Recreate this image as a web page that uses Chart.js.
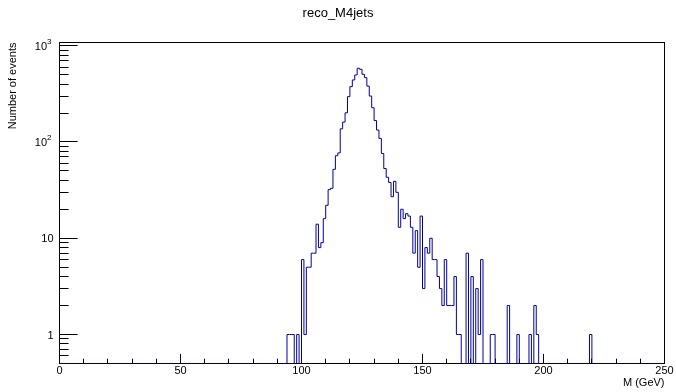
<!DOCTYPE html>
<html>
<head>
<meta charset="utf-8">
<title>reco_M4jets</title>
<script src="https://cdn.jsdelivr.net/npm/chart.js@4/dist/chart.umd.min.js"></script>
<style>
  html, body { margin: 0; padding: 0; background: #ffffff; }
</style>
</head>
<body>
<canvas id="histo" width="676" height="392"></canvas>
<script>
// histogram: 1 GeV bins, counts start at firstBin
var firstBin = 94;
var counts = [
  1, 1, 1, 0, 1, 0,                       // 94-99
  6, 1, 5, 5, 7, 7, 14, 8, 9, 16,         // 100-109
  22, 32, 33, 52, 72, 77, 137, 161, 201, 296,   // 110-119
  376, 441, 497, 583, 569, 505, 466, 381, 300, 227, // 120-129
  167, 133, 109, 76, 53, 43, 38, 27, 39, 30,    // 130-139
  13, 20, 16, 18, 17, 13, 7, 12, 5, 17,   // 140-149
  3, 8, 7, 10, 6, 6, 4, 3, 2, 6,          // 150-159
  2, 2, 2, 4, 1, 1, 0, 0, 7, 0,           // 160-169
  4, 0, 3, 1, 6, 0, 0, 0, 1, 1,           // 170-179
  0, 0, 0, 0, 0, 2, 0, 0, 0, 1,           // 180-189
  0, 0, 0, 0, 1, 0, 2, 1, 0, 0,           // 190-199
  0, 0, 0, 0, 0, 0, 0, 0, 0, 0,           // 200-209
  0, 0, 0, 0, 0, 0, 0, 0, 0, 1            // 210-219
];

var xMin = 0, xMax = 250;
var yMin = 0.5, yMax = 1080;
var xTickValues = [0, 50, 100, 150, 200, 250];
var xTickLabels = ['0', '50', '100', '150', '200', '250'];
var yMajorTicks = [1, 10, 100, 1000];
var yTickLabels = ['1', '10', '10', '10'];
var yTickExponents = ['', '', '2', '3'];

var FONT = '"Liberation Sans", Arial, Helvetica, sans-serif';

// step points at each bin's low edge; empty bins sit on the frame floor
function buildSteps() {
  var pts = [];
  for (var b = xMin; b < xMax; b++) {
    var i = b - firstBin;
    var v = (i >= 0 && i < counts.length) ? counts[i] : 0;
    pts.push({ x: b, y: v > 0 ? v : yMin });
  }
  pts.push({ x: xMax, y: yMin });
  return pts;
}

/**
 * ROOT-like frame: box, inward ticks, labels, titles.
 */
var rootFrame = {
  id: 'rootFrame',
  beforeDatasetsDraw: function (chart) {
    var ctx = chart.ctx;
    var a = chart.chartArea;
    var xs = chart.scales.x;
    var ys = chart.scales.y;
    var w = a.right - a.left;
    var h = a.bottom - a.top;

    ctx.save();
    ctx.strokeStyle = '#000000';
    ctx.lineWidth = 1;
    ctx.strokeRect(a.left, a.top, w, h);

    ctx.beginPath();
    // x ticks every 10, major every 50
    for (var v = xMin; v <= xMax; v += 10) {
      var px = Math.floor(xs.getPixelForValue(v)) + 0.5;
      var len = (v % 50 === 0) ? 0.03 * h : 0.015 * h;
      ctx.moveTo(px, a.bottom);
      ctx.lineTo(px, a.bottom - len);
    }
    // y log ticks
    for (var d = -1; d <= 3; d++) {
      for (var m = 1; m <= 9; m++) {
        var val = m * Math.pow(10, d);
        if (val < yMin || val > yMax) continue;
        var py = Math.floor(ys.getPixelForValue(val)) + 0.5;
        var l = (m === 1) ? 0.03 * w : 0.015 * w;
        ctx.moveTo(a.left, py);
        ctx.lineTo(a.left + l, py);
      }
    }
    ctx.stroke();

    ctx.fillStyle = '#000000';
    ctx.font = '11px ' + FONT;
    ctx.textAlign = 'center';
    ctx.textBaseline = 'top';
    xTickValues.forEach(function (v, i) {
      ctx.fillText(xTickLabels[i], xs.getPixelForValue(v), a.bottom + 2);
    });

    ctx.textBaseline = 'middle';
    yMajorTicks.forEach(function (v, i) {
      var py = ys.getPixelForValue(v);
      var exp = yTickExponents[i];
      if (exp) {
        ctx.font = '8px ' + FONT;
        ctx.textAlign = 'right';
        ctx.fillText(exp, a.left - 8, py - 4);
        var ew = ctx.measureText(exp).width;
        ctx.font = '11px ' + FONT;
        ctx.fillText(yTickLabels[i], a.left - 8 - ew, py + 1);
      } else {
        ctx.font = '11px ' + FONT;
        ctx.textAlign = 'right';
        ctx.fillText(yTickLabels[i], a.left - 6, py + 1);
      }
    });

    // axis titles
    ctx.font = '11px ' + FONT;
    ctx.textAlign = 'right';
    ctx.textBaseline = 'middle';
    ctx.fillText('M (GeV)', a.right, 383);

    ctx.save();
    ctx.translate(13, a.top);
    ctx.rotate(-Math.PI / 2);
    ctx.textAlign = 'right';
    ctx.fillText('Number of events', 0, 0);
    ctx.restore();

    ctx.font = '13px ' + FONT;
    ctx.textAlign = 'center';
    ctx.fillText('reco_M4jets', chart.width / 2, 13);
    ctx.restore();
  }
};

var chart = new Chart(document.getElementById('histo'), {
  type: 'line',
  data: {
    datasets: [{
      label: 'reco_M4jets',
      data: buildSteps(),
      stepped: 'before',
      borderColor: '#000099',
      borderWidth: 1,
      pointRadius: 0,
      fill: false,
      tension: 0,
    }],
  },
  options: {
    responsive: false,
    animation: false,
    devicePixelRatio: 1,
    layout: { padding: { left: 59.5, right: 11.5, top: 42.5, bottom: 28.5 } },
    plugins: {
      legend: { display: false },
      tooltip: { enabled: false },
      title: { display: false },
    },
    scales: {
      x: { type: 'linear', min: xMin, max: xMax, display: false },
      y: { type: 'logarithmic', min: yMin, max: yMax, display: false },
    },
  },
  plugins: [rootFrame],
});
</script>
</body>
</html>
